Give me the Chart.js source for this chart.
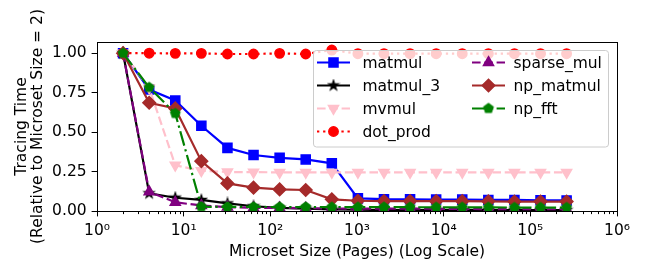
<!DOCTYPE html>
<html>
<head>
<meta charset="utf-8">
<script src="https://cdn.jsdelivr.net/npm/chart.js@4"></script>
<style>
  html, body { margin: 0; padding: 0; background: #fff; }
</style>
</head>
<body>
<canvas id="tracingChart" width="649" height="264"></canvas>
<script>
// microset sizes in pages (2^1 .. 2^18)
const microsetSizes = [2, 4, 8, 16, 32, 64, 128, 256, 512, 1024, 2048, 4096, 8192, 16384, 32768, 65536, 131072, 262144];

const matmulData     = [1.0, 0.77, 0.70, 0.54, 0.40, 0.355, 0.337, 0.327, 0.302, 0.08, 0.075, 0.074, 0.073, 0.072, 0.07, 0.07, 0.068, 0.067];
const matmul3Data    = [1.0, 0.112, 0.084, 0.07, 0.048, 0.03, 0.02, 0.015, 0.01, 0.008, 0.006, 0.005, 0.005, 0.005, 0.005, 0.005, 0.005, 0.005];
const mvmulData      = [1.0, 0.78, 0.29, 0.255, 0.247, 0.246, 0.245, 0.245, 0.245, 0.245, 0.245, 0.245, 0.245, 0.245, 0.245, 0.245, 0.245, 0.245];
const dotProdData    = [1.0, 1.0, 0.999, 0.999, 0.995, 0.995, 0.999, 0.995, 1.02, 0.997, 0.997, 0.997, 0.997, 0.997, 0.997, 0.997, 0.997, 0.997];
const sparseMulData  = [1.0, 0.122, 0.055, 0.035, 0.025, 0.02, 0.02, 0.018, 0.016, 0.015, 0.015, 0.015, 0.014, 0.013, 0.012, 0.012, 0.011, 0.011];
const npMatmulData   = [1.0, 0.686, 0.65, 0.316, 0.175, 0.148, 0.137, 0.133, 0.074, 0.065, 0.063, 0.063, 0.062, 0.062, 0.061, 0.06, 0.06, 0.06];
const npFftData      = [1.0, 0.783, 0.618, 0.027, 0.026, 0.026, 0.025, 0.025, 0.024, 0.024, 0.024, 0.024, 0.023, 0.023, 0.023, 0.022, 0.022, 0.022];

const seriesNames = ['matmul', 'matmul_3', 'mvmul', 'dot_prod', 'sparse_mul', 'np_matmul', 'np_fft'];

const xTickValues = [1, 10, 100, 1000, 10000, 100000, 1000000];
const xTickLabels = ['10\u2070', '10\u00B9', '10\u00B2', '10\u00B3', '10\u2074', '10\u2075', '10\u2076'];
const yTickValues = [0, 0.25, 0.5, 0.75, 1.0];
const yTickLabels = ['0.00', '0.25', '0.50', '0.75', '1.00'];

const FONT = 'DejaVu Sans';
const FSIZE = 15.5;

// marker images for shapes chart.js doesn't have
function polyImage(color, r, points, inner) {
  let c = document.createElement('canvas');
  let s = Math.ceil(r * 2 + 4);
  c.width = s; c.height = s;
  let g = c.getContext('2d');
  g.translate(s / 2, s / 2);
  g.beginPath();
  let n = inner ? points * 2 : points;
  for (let k = 0; k < n; k++) {
    let rad = (inner && k % 2) ? r * inner : r;
    let a = -Math.PI / 2 + k * 2 * Math.PI / n;
    g.lineTo(rad * Math.cos(a), rad * Math.sin(a));
  }
  g.closePath();
  g.fillStyle = color;
  g.fill();
  g.lineJoin = 'miter';
  g.lineWidth = 1.3;
  g.strokeStyle = color;
  g.stroke();
  return c;
}
const starImg = polyImage('#000000', 5.0, 5, 0.382);
const pentagonImg = polyImage('#008000', 4.9, 5, 0);

function pts(arr) {
  return microsetSizes.map((x, i) => ({ x: x, y: arr[i] }));
}

function makeSet(i, data, color, style, radius, rotation, dash) {
  return {
    label: seriesNames[i],
    data: pts(data),
    borderColor: color,
    backgroundColor: color,
    pointBackgroundColor: color,
    pointBorderColor: color,
    pointBorderWidth: 1.5,
    pointStyle: style,
    pointRadius: radius,
    pointRotation: rotation,
    borderWidth: 2.2,
    borderDash: dash,
    tension: 0,
    fill: false,
    order: 7 - i
  };
}

const datasets = [
  makeSet(0, matmulData, '#0000ff', 'rect', 6.4, 0, []),
  makeSet(1, matmul3Data, '#000000', starImg, 5, 0, []),
  makeSet(2, mvmulData, '#ffc0cb', 'triangle', 5.8, 180, [8.6, 3.7]),
  makeSet(3, dotProdData, '#ff0000', 'circle', 4.7, 0, [2.3, 3.8]),
  makeSet(4, sparseMulData, '#800080', 'triangle', 5.8, 0, [8.6, 3.7]),
  makeSet(5, npMatmulData, '#a52a2a', 'rectRot', 6.3, 0, []),
  makeSet(6, npFftData, '#008000', pentagonImg, 5, 0, [14.9, 3.7, 2.3, 3.7])
];

// frame, minor ticks and legend box
const extras = {
  id: 'extras',
  afterDatasetsDraw(chart) {
    const ctx = chart.ctx;
    const a = chart.chartArea;
    const xs = chart.scales.x;
    ctx.save();
    // minor ticks on log axis
    ctx.strokeStyle = '#000';
    ctx.lineWidth = 1;
    ctx.beginPath();
    for (let d = 0; d < 6; d++) {
      for (let k = 2; k <= 9; k++) {
        let px = Math.round(xs.getPixelForValue(k * Math.pow(10, d))) + 0.5;
        ctx.moveTo(px, a.bottom);
        ctx.lineTo(px, a.bottom + 3.1);
      }
    }
    ctx.stroke();
    // full frame
    let l = Math.round(a.left - 0.5) + 0.5, t = Math.round(a.top - 0.5) + 0.5;
    let r = Math.round(a.right - 0.5) + 0.5, b = Math.round(a.bottom - 0.5) + 0.5;
    ctx.strokeRect(l, t, r - l, b - t);

    // legend
    let bx = 313, by = 50, bw = 295, bh = 96.5;
    ctx.beginPath();
    ctx.roundRect(bx + 0.5, by + 0.5, bw, bh, 3);
    ctx.fillStyle = 'rgba(255,255,255,0.8)';
    ctx.fill();
    ctx.strokeStyle = '#cccccc';
    ctx.stroke();

    const colX = [317, 472];
    const textX = [362.5, 513.5];
    chart.data.datasets.forEach((ds, i) => {
      let col = i < 4 ? 0 : 1;
      let row = i < 4 ? i : i - 4;
      let y = 62.5 + row * 23;
      let x0 = colX[col], x1 = x0 + 33;
      ctx.beginPath();
      ctx.setLineDash(ds.borderDash);
      ctx.lineWidth = ds.borderWidth;
      ctx.strokeStyle = ds.borderColor;
      ctx.moveTo(x0, y);
      ctx.lineTo(x1, y);
      ctx.stroke();
      ctx.setLineDash([]);
      ctx.fillStyle = ds.pointBackgroundColor;
      ctx.strokeStyle = ds.pointBorderColor;
      ctx.lineWidth = ds.pointBorderWidth;
      Chart.helpers.drawPoint(ctx, {
        pointStyle: ds.pointStyle,
        rotation: ds.pointRotation,
        radius: ds.pointRadius,
        borderWidth: ds.pointBorderWidth
      }, (x0 + x1) / 2, y);
      ctx.fillStyle = '#000';
      ctx.font = FSIZE + 'px "' + FONT + '"';
      ctx.textAlign = 'left';
      ctx.textBaseline = 'middle';
      ctx.fillText(ds.label, textX[col], y + 1);
    });
    ctx.restore();
  }
};

const ctxTracing = document.getElementById('tracingChart').getContext('2d');
const tracingChart = new Chart(ctxTracing, {
  type: 'line',
  data: { datasets: datasets },
  options: {
    responsive: false,
    animation: false,
    devicePixelRatio: 1,
    layout: { padding: { left: 0, right: 32, top: 42, bottom: 0 } },
    plugins: {
      legend: { display: false },
      tooltip: { enabled: false }
    },
    scales: {
      x: {
        type: 'logarithmic',
        position: 'bottom',
        min: 1,
        max: 1000000,
        afterBuildTicks: s => { s.ticks = xTickValues.map(v => ({ value: v })); },
        afterFit: s => { s.height = 53; },
        ticks: {
          callback: (v) => xTickLabels[xTickValues.indexOf(v)],
          color: '#000',
          font: { family: FONT, size: FSIZE },
          padding: 5,
          maxRotation: 0,
          autoSkip: false
        },
        grid: { drawOnChartArea: false, drawTicks: true, tickLength: 5.4, color: '#000', tickWidth: 1 },
        border: { color: '#000', width: 1 },
        title: {
          display: true,
          text: 'Microset Size (Pages) (Log Scale)',
          color: '#000',
          font: { family: FONT, size: FSIZE },
          padding: { top: 0, bottom: 3 }
        }
      },
      y: {
        type: 'linear',
        min: 0,
        max: 1.071,
        afterBuildTicks: s => { s.ticks = yTickValues.map(v => ({ value: v })); },
        afterFit: s => { s.width = 97; },
        ticks: {
          callback: (v, i) => yTickLabels[i],
          color: '#000',
          font: { family: FONT, size: FSIZE },
          padding: 5
        },
        grid: { drawOnChartArea: false, drawTicks: true, tickLength: 5.4, color: '#000', tickWidth: 1 },
        border: { color: '#000', width: 1 },
        title: {
          display: true,
          text: ['Tracing Time', '(Relative to Microset Size = 2)'],
          color: '#000',
          font: { family: FONT, size: FSIZE, lineHeight: 1.05 },
          padding: { top: 13.8, bottom: 0 }
        }
      }
    }
  },
  plugins: [extras]
});
</script>
</body>
</html>
